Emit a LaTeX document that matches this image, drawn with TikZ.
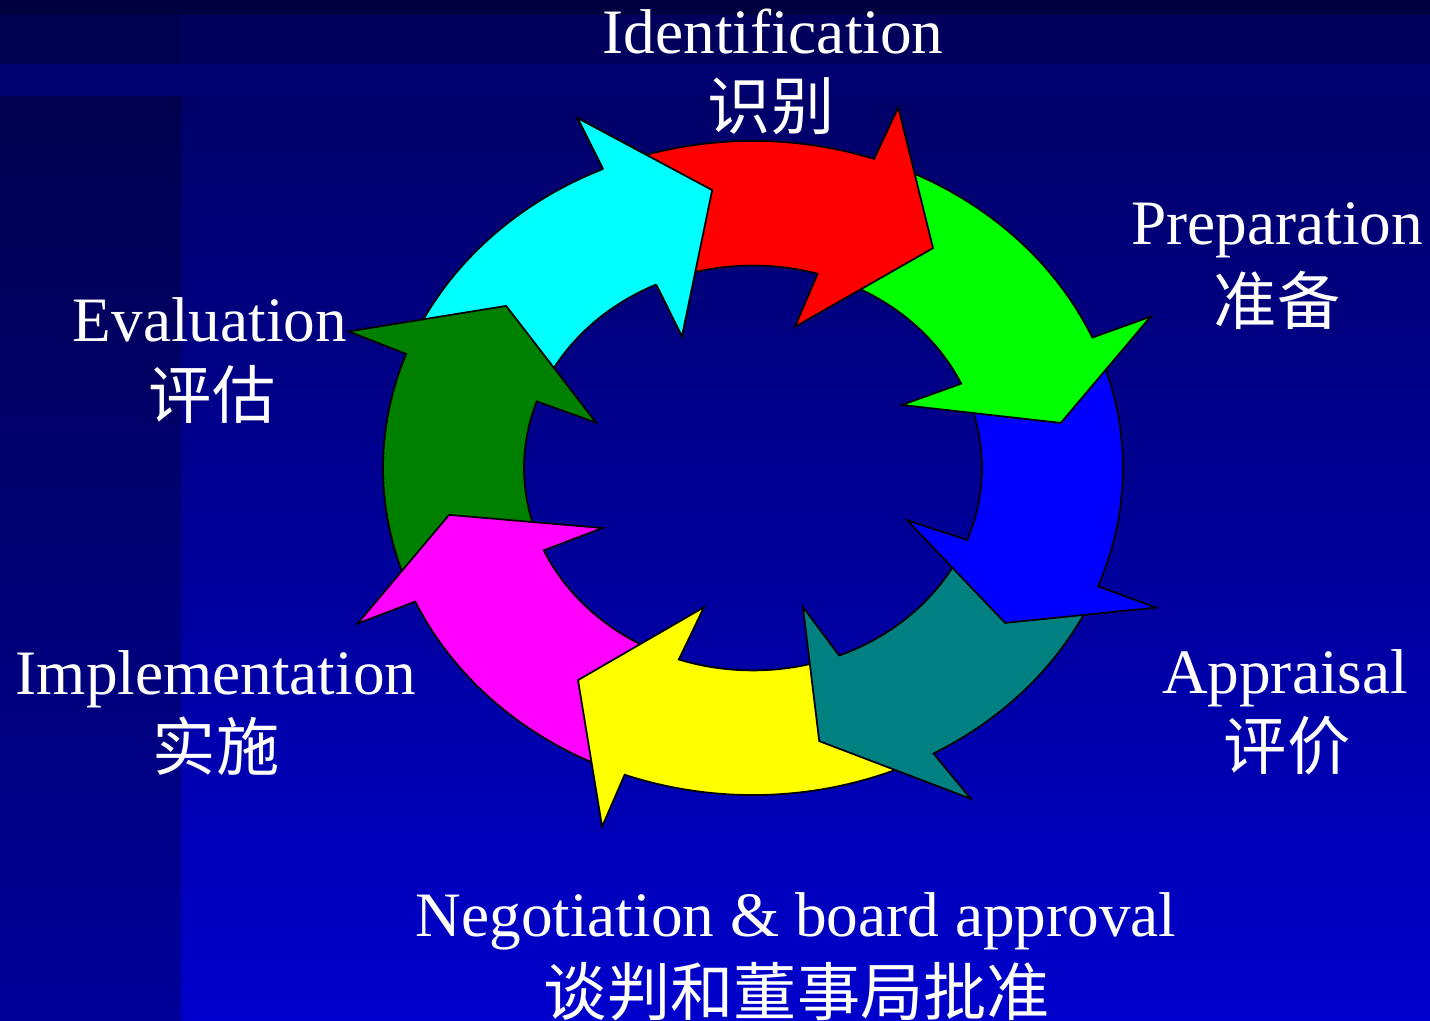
\documentclass[tikz,border=0pt]{standalone}
\usepackage{fontspec}
\setmainfont{Liberation Serif}
\newfontfamily\cjk{Noto Sans CJK SC}
\definecolor{bgtop}{RGB}{0,0,104}
\definecolor{bgbot}{RGB}{0,0,204}
\definecolor{bandlight}{RGB}{0,0,112}
\definecolor{bandmid}{RGB}{0,0,92}
\definecolor{bandleft}{RGB}{0,0,80}
\definecolor{banddark}{RGB}{0,0,64}
\definecolor{arred}{RGB}{255,0,0}
\definecolor{argreen}{RGB}{0,255,0}
\definecolor{arblue}{RGB}{0,0,255}
\definecolor{arteal}{RGB}{0,128,128}
\definecolor{aryellow}{RGB}{255,255,0}
\definecolor{armagenta}{RGB}{255,0,255}
\definecolor{ardkgreen}{RGB}{0,128,0}
\definecolor{arcyan}{RGB}{0,255,255}

\begin{document}
\begin{tikzpicture}
[line width=1pt,
stage/.style={text=white, inner sep=0pt, anchor=base, font=\fontsize{36}{40}\selectfont},
stagecn/.style={text=white, inner sep=0pt, font=\fontsize{36}{40}\selectfont\cjk},
ringarrow/.style={draw=black, line width=1pt}]

\useasboundingbox (0,0) rectangle (28.6,20.42);

% background
\shade[top color=bgtop, bottom color=bgbot] (0,0) rectangle (28.6,18.50);
\fill[black, opacity=0.25] (0,0) rectangle (3.62,18.50);
\fill[bandlight] (0,18.50) rectangle (28.6,19.14);
\fill[bandmid] (0,19.14) rectangle (28.6,20.12);
\fill[bandleft] (0,19.14) rectangle (3.62,20.12);
\fill[banddark] (0,20.12) rectangle (28.6,20.42);

% ring of arrows: colour / tip / notch out / notch in / barb out / barb in / tip radius / tail out / tail in
% each head lies over the next tail, so they go in reverse order
\begin{scope}[shift={(15.06,11.06)}, yscale=0.884]
\foreach \col/\T/\No/\Ni/\Bo/\Bi/\rt/\Ao/\Ai in {
    arcyan/97.4/113.9/115/113.9/115.5/6.34/154.6/157.3,
    ardkgreen/143.4/159.6/160.8/159.1/161.9/6.15/199.1/200.5,
    armagenta/-170.1/-155.9/-156/-156/-155.7/6.17/-115.3/-112.4,
    aryellow/-126.1/-110.3/-108.9/-110.4/-107.3/5.94/-65.8/-71.4,
    arteal/-77.9/-60.8/-67.9/-59.8/-72.4/6.32/-26.2/-24.3,
    arblue/-34.8/-21.2/-20.8/-21.4/-21/6.14/18.5/21.1,
    argreen/9.4/23.5/24.6/23.3/25.6/6.24/65.9/70.1,
    arred/54.1/70.9/73.6/70.4/75.3/6.14/108.9/111.5} {
  \filldraw[ringarrow, fill=\col] (\Ao:7.4) arc[start angle=\Ao, end angle=\No, radius=7.4]
    -- (\Bo:8.66) -- (\T:\rt) -- (\Bi:3.3) -- (\Ni:4.58)
    arc[start angle=\Ni, end angle=\Ai, radius=4.58] -- cycle;
}
% cyan head again, over the red tail
\fill[arcyan] (113.9:7.4) -- (113.9:8.66) -- (97.4:6.34) -- (115.5:3.3) -- (115:4.58) -- cycle;
\draw[ringarrow] (113.9:7.4) -- (113.9:8.66) -- (97.4:6.34) -- (115.5:3.3) -- (115:4.58);
\end{scope}

\node[stage] (ident) at (15.46,19.34) {Identification};
\node[stagecn] (identcn) at (15.42,18.30) {识别};
\node[stage] (prep) at (25.54,15.52) {Preparation};
\node[stagecn] (prepcn) at (25.54,14.42) {准备};
\node[stage] (appr) at (25.70,6.54) {Appraisal};
\node[stagecn] (apprcn) at (25.74,5.50) {评价};
\node[stage] (nego) at (15.92,1.68) {Negotiation \& board approval};
\node[stagecn] (negocn) at (15.94,0.58) {谈判和董事局批准};
\node[stage] (impl) at (4.32,6.52) {Implementation};
\node[stagecn] (implcn) at (4.32,5.50) {实施};
\node[stage] (eval) at (4.20,13.58) {Evaluation};
\node[stagecn] (evalcn) at (4.24,12.54) {评估};

\end{tikzpicture}
\end{document}
